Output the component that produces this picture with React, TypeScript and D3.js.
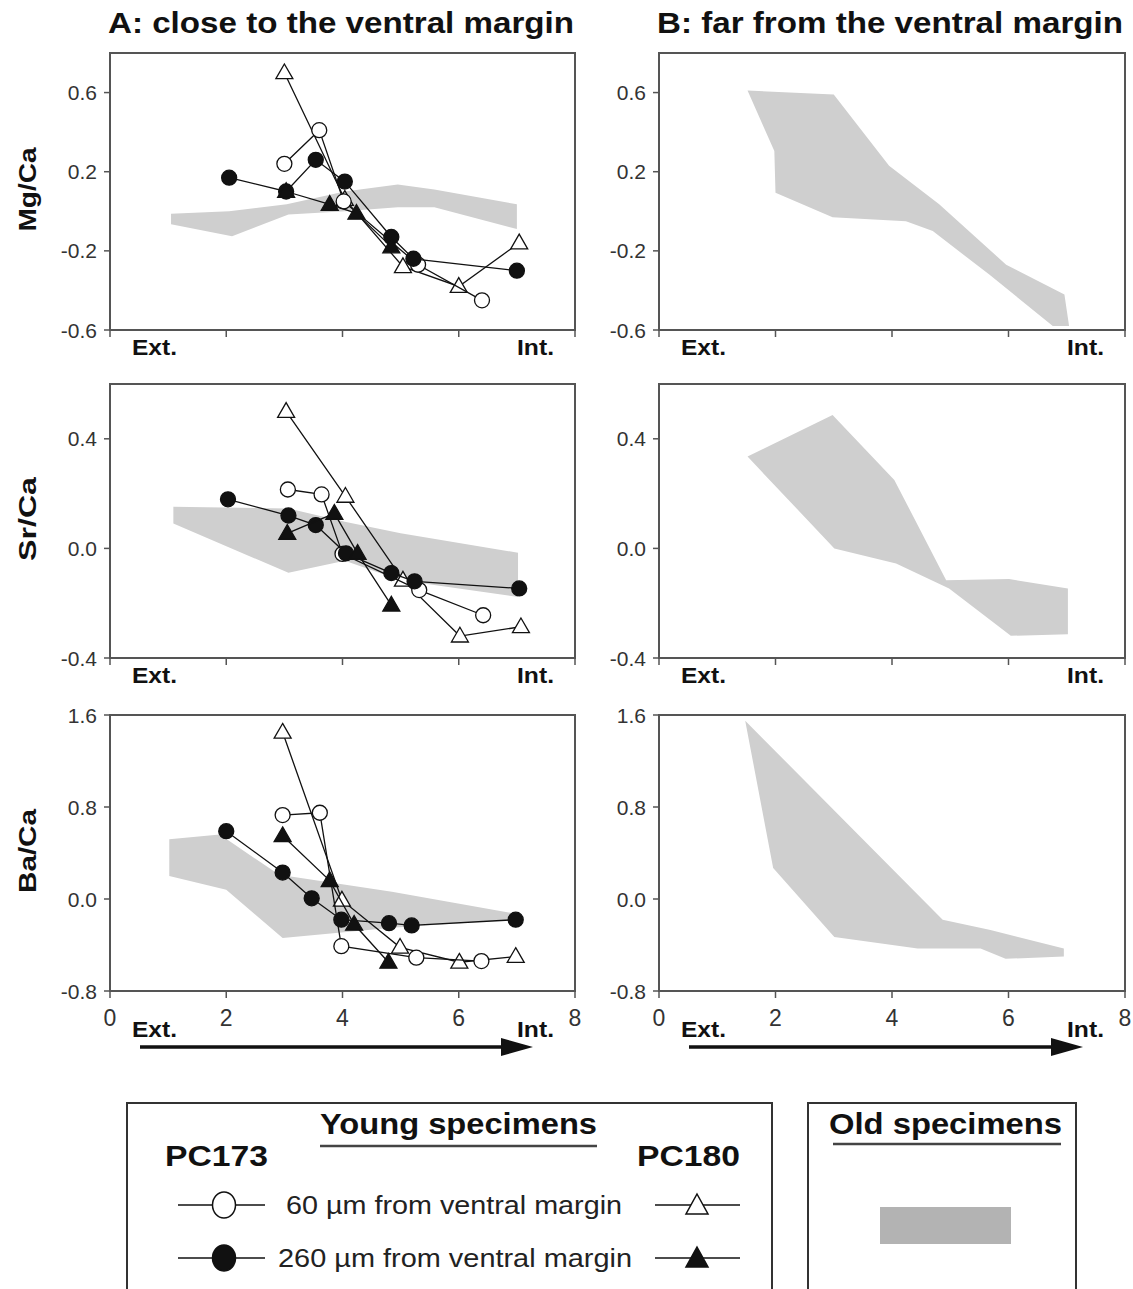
import * as d3 from "d3";

type Pt = [number, number];

const FONT = "'Liberation Sans', Arial, Helvetica, sans-serif";

// distance axis (arbitrary units), shared by all panels
const xTicks = [0, 2, 4, 6, 8];
const xDomain: Pt = [0, 8];

const panelTitles = ["A: close to the ventral margin", "B: far from the ventral margin"];
const ratioLabels = ["Mg/Ca", "Sr/Ca", "Ba/Ca"];

const mgDomain: Pt = [-0.6, 0.8];
const srDomain: Pt = [-0.4, 0.6];
const baDomain: Pt = [-0.8, 1.6];
const mgTicks = [0.6, 0.2, -0.2, -0.6];
const srTicks = [0.4, 0.0, -0.4];
const baTicks = [1.6, 0.8, 0.0, -0.8];

// young specimens, panel A
// PC173 60 µm (open circle), PC173 260 µm (filled circle)
// PC180 60 µm (open triangle), PC180 260 µm (filled triangle)
const mgPc173Open: Pt[] = [[3.0, 0.24], [3.6, 0.41], [4.02, 0.05], [5.3, -0.27], [6.4, -0.45]];
const mgPc173Filled: Pt[] = [[2.05, 0.17], [3.03, 0.10], [3.54, 0.26], [4.04, 0.15], [4.84, -0.13], [5.22, -0.24], [7.0, -0.30]];
const mgPc180Open: Pt[] = [[3.0, 0.70], [4.04, 0.06], [5.04, -0.28], [6.0, -0.38], [7.04, -0.16]];
const mgPc180Filled: Pt[] = [[3.03, 0.10], [3.78, 0.035], [4.24, -0.01], [4.84, -0.18]];

const srPc173Open: Pt[] = [[3.06, 0.215], [3.64, 0.197], [4.0, -0.02], [5.32, -0.152], [6.42, -0.244]];
const srPc173Filled: Pt[] = [[2.03, 0.179], [3.07, 0.12], [3.54, 0.085], [4.06, -0.018], [4.84, -0.09], [5.24, -0.12], [7.04, -0.146]];
const srPc180Open: Pt[] = [[3.03, 0.50], [4.05, 0.19], [5.04, -0.116], [6.02, -0.32], [7.07, -0.286]];
const srPc180Filled: Pt[] = [[3.05, 0.055], [3.86, 0.128], [4.26, -0.018], [4.84, -0.207]];

const baPc173Open: Pt[] = [[2.97, 0.73], [3.61, 0.75], [3.98, -0.41], [5.27, -0.51], [6.39, -0.54]];
const baPc173Filled: Pt[] = [[2.0, 0.59], [2.97, 0.23], [3.47, 0.006], [3.98, -0.18], [4.8, -0.21], [5.19, -0.23], [6.98, -0.18]];
const baPc180Open: Pt[] = [[2.97, 1.45], [3.99, -0.01], [4.99, -0.42], [6.01, -0.55], [6.98, -0.50]];
const baPc180Filled: Pt[] = [[2.97, 0.55], [3.78, 0.16], [4.2, -0.22], [4.79, -0.55]];

// old specimens envelopes (outline, upper edge then lower edge)
const mgOldA: Pt[] = [
  [1.05, -0.013], [2.05, 0.0], [3.04, 0.035], [4.04, 0.10], [4.95, 0.135], [5.58, 0.11], [7.0, 0.035],
  [7.0, -0.09], [5.58, 0.02], [4.95, 0.02], [4.04, 0.0], [3.07, -0.016], [2.1, -0.126], [1.05, -0.065],
];
const srOldA: Pt[] = [
  [1.09, 0.152], [3.07, 0.146], [4.04, 0.097], [5.0, 0.055], [7.02, -0.016],
  [7.02, -0.177], [5.0, -0.116], [4.04, -0.045], [3.07, -0.089], [1.09, 0.091],
];
const baOldA: Pt[] = [
  [1.02, 0.52], [1.89, 0.56], [2.91, 0.21], [4.85, 0.064], [6.95, -0.125],
  [6.95, -0.18], [4.85, -0.25], [2.97, -0.34], [2.0, 0.08], [1.02, 0.2],
];
const mgOldB: Pt[] = [
  [1.52, 0.61], [3.0, 0.59], [3.95, 0.23], [4.81, 0.035], [5.96, -0.27], [6.96, -0.42], [7.04, -0.58],
  [6.76, -0.58], [5.67, -0.32], [4.7, -0.1], [4.24, -0.05], [2.98, -0.03], [2.0, 0.094], [1.98, 0.305],
];
const srOldB: Pt[] = [
  [1.52, 0.335], [2.98, 0.487], [4.04, 0.25], [4.93, -0.116], [6.01, -0.112], [7.02, -0.146],
  [7.02, -0.313], [6.04, -0.319], [4.98, -0.146], [4.07, -0.055], [3.01, 0.0],
];
const baOldB: Pt[] = [
  [1.48, 1.55], [4.87, -0.18], [5.69, -0.27], [6.95, -0.43],
  [6.95, -0.5], [5.95, -0.52], [5.52, -0.43], [4.44, -0.43], [3.01, -0.33], [1.96, 0.27],
];

const legendRowLabels = ["60 µm from ventral margin", "260 µm from ventral margin"];

type Series = { data: Pt[]; shape: "circle" | "triangle"; filled: boolean };

const rows = [
  {
    label: ratioLabels[0], domain: mgDomain, ticks: mgTicks, oldA: mgOldA, oldB: mgOldB,
    series: [
      { data: mgPc180Open, shape: "triangle", filled: false },
      { data: mgPc173Open, shape: "circle", filled: false },
      { data: mgPc173Filled, shape: "circle", filled: true },
      { data: mgPc180Filled, shape: "triangle", filled: true },
    ] as Series[],
  },
  {
    label: ratioLabels[1], domain: srDomain, ticks: srTicks, oldA: srOldA, oldB: srOldB,
    series: [
      { data: srPc180Open, shape: "triangle", filled: false },
      { data: srPc173Open, shape: "circle", filled: false },
      { data: srPc173Filled, shape: "circle", filled: true },
      { data: srPc180Filled, shape: "triangle", filled: true },
    ] as Series[],
  },
  {
    label: ratioLabels[2], domain: baDomain, ticks: baTicks, oldA: baOldA, oldB: baOldB,
    series: [
      { data: baPc180Open, shape: "triangle", filled: false },
      { data: baPc173Open, shape: "circle", filled: false },
      { data: baPc173Filled, shape: "circle", filled: true },
      { data: baPc180Filled, shape: "triangle", filled: true },
    ] as Series[],
  },
];

// layout
const W = 1133;
const H = 1289;
const colX: Pt[] = [[110, 575], [659, 1125]];
const rowY: Pt[] = [[53, 330], [384, 658], [715, 991]];

const BAND = "#cfcfcf";
const INK = "#111";
const FRAME = "#555";

const triPath = d3.symbol(d3.symbolTriangle, 125)() as string;
const tickFmt = (v: number) => d3.format(".1f")(v).replace("−", "-");

function Marker({ shape, filled, x, y }: { shape: string; filled: boolean; x: number; y: number }) {
  const fill = filled ? INK : "#fff";
  if (shape === "circle") {
    return <circle cx={x} cy={y} r={7.5} fill={fill} stroke={INK} strokeWidth={1.3} />;
  }
  return <path d={triPath} transform={`translate(${x},${y + 1})`} fill={fill} stroke={INK} strokeWidth={1.3} />;
}

function Panel({ col, row, withSeries }: { col: number; row: number; withSeries: boolean }) {
  const [x0, x1] = colX[col];
  const [y0, y1] = rowY[row];
  const r = rows[row];
  const x = d3.scaleLinear().domain(xDomain).range([x0, x1]);
  const y = d3.scaleLinear().domain(r.domain).range([y1, y0]);
  const line = d3.line<Pt>().x((d) => x(d[0])).y((d) => y(d[1]));
  const old = col === 0 ? r.oldA : r.oldB;
  const last = row === rows.length - 1;
  const arrowY = y1 + 56;
  const extY = y1 + (last ? 46 : 25);

  return (
    <g>
      <path d={line(old) + "Z"} fill={BAND} />
      {withSeries &&
        r.series.map((s, i) => (
          <g key={i}>
            <path d={line(s.data) as string} fill="none" stroke={INK} strokeWidth={1.3} />
            {s.data.map((d, j) => (
              <Marker key={j} shape={s.shape} filled={s.filled} x={x(d[0])} y={y(d[1])} />
            ))}
          </g>
        ))}
      <rect x={x0} y={y0} width={x1 - x0} height={y1 - y0} fill="none" stroke={FRAME} strokeWidth={2} />
      {r.ticks.map((t) => (
        <g key={t}>
          <line x1={x0 - 6} x2={x0} y1={y(t)} y2={y(t)} stroke={FRAME} strokeWidth={1.5} />
          <text x={x0 - 13} y={y(t)} textAnchor="end" dominantBaseline="central" fontSize={21} fill="#333">
            {tickFmt(t)}
          </text>
        </g>
      ))}
      {xTicks.map((t) => (
        <g key={t}>
          <line x1={x(t)} x2={x(t)} y1={y1} y2={y1 + 7} stroke={FRAME} strokeWidth={1.5} />
          {last && (
            <text x={x(t)} y={y1 + 35} textAnchor="middle" fontSize={23} fill="#333">
              {t}
            </text>
          )}
        </g>
      ))}
      <text x={x0 + 22} y={extY} fontSize={22} fontWeight="bold" fill={INK} textLength={45} lengthAdjust="spacingAndGlyphs">
        Ext.
      </text>
      <text x={x1 - 58} y={extY} fontSize={22} fontWeight="bold" fill={INK} textLength={37} lengthAdjust="spacingAndGlyphs">
        Int.
      </text>
      {last && (
        <g>
          <line x1={x0 + 30} x2={x1 - 70} y1={arrowY} y2={arrowY} stroke={INK} strokeWidth={3.5} />
          <path d={`M${x1 - 74},${arrowY - 9}L${x1 - 42},${arrowY}L${x1 - 74},${arrowY + 9}Z`} fill={INK} />
        </g>
      )}
      {col === 0 && (
        <text
          transform={`translate(27,${(y0 + y1) / 2 - 2}) rotate(-90)`}
          x={-42}
          dominantBaseline="central"
          fontSize={24}
          fontWeight="bold"
          fill={INK}
          textLength={84}
          lengthAdjust="spacingAndGlyphs"
        >
          {r.label}
        </text>
      )}
    </g>
  );
}

function Legend() {
  return (
    <g>
      <rect x={127} y={1103} width={645} height={220} fill="#fff" stroke="#333" strokeWidth={2} />
      <text x={320} y={1134} fontSize={30} fontWeight="bold" fill={INK} textLength={277} lengthAdjust="spacingAndGlyphs">
        Young specimens
      </text>
      <line x1={320} x2={597} y1={1146} y2={1146} stroke="#444" strokeWidth={2.5} />
      <text x={165} y={1166} fontSize={29} fontWeight="bold" fill={INK} textLength={103} lengthAdjust="spacingAndGlyphs">
        PC173
      </text>
      <text x={637} y={1166} fontSize={29} fontWeight="bold" fill={INK} textLength={103} lengthAdjust="spacingAndGlyphs">
        PC180
      </text>
      {legendRowLabels.map((label, i) => {
        const filled = i === 1;
        const cy = 1205 + i * 53;
        return (
          <g key={label}>
            <line x1={178} x2={265} y1={cy} y2={cy} stroke={INK} strokeWidth={1.5} />
            <ellipse cx={224} cy={cy} rx={11.5} ry={13} fill={filled ? INK : "#fff"} stroke={INK} strokeWidth={1.5} />
            <line x1={655} x2={740} y1={cy} y2={cy} stroke={INK} strokeWidth={1.5} />
            <path
              d={`M697,${cy - 11}L708,${cy + 9}L686,${cy + 9}Z`}
              fill={filled ? INK : "#fff"}
              stroke={INK}
              strokeWidth={1.5}
            />
            <text
              x={filled ? 278 : 286}
              y={cy + 9}
              fontSize={26}
              fill="#222"
              textLength={filled ? 354 : 336}
              lengthAdjust="spacingAndGlyphs"
            >
              {label}
            </text>
          </g>
        );
      })}
      <rect x={808} y={1103} width={268} height={220} fill="#fff" stroke="#333" strokeWidth={2} />
      <text x={829} y={1134} fontSize={30} fontWeight="bold" fill={INK} textLength={233} lengthAdjust="spacingAndGlyphs">
        Old specimens
      </text>
      <line x1={833} x2={1061} y1={1144} y2={1144} stroke="#444" strokeWidth={2.5} />
      <rect x={880} y={1207} width={131} height={37} fill="#b3b3b3" />
    </g>
  );
}

export default function App() {
  return (
    <svg
      width={W}
      height={H}
      style={{ position: "absolute", left: 0, top: 0, background: "#fff" }}
      fontFamily={FONT}
    >
      <rect width={W} height={H} fill="#fff" />
      {panelTitles.map((t, i) => (
        <text
          key={t}
          x={colX[i][0] - 2}
          y={33}
          fontSize={30}
          fontWeight="bold"
          fill={INK}
          textLength={466}
          lengthAdjust="spacingAndGlyphs"
        >
          {t}
        </text>
      ))}
      {rows.map((_, ri) =>
        [0, 1].map((ci) => <Panel key={`${ri}-${ci}`} col={ci} row={ri} withSeries={ci === 0} />)
      )}
      <Legend />
    </svg>
  );
}
